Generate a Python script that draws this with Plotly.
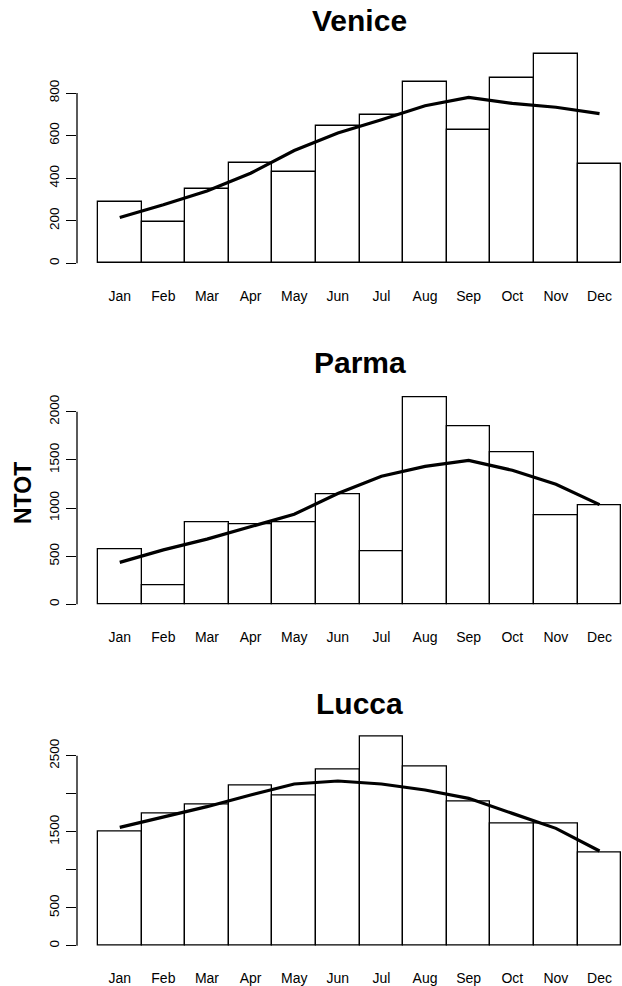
import plotly.graph_objects as go

months = ["Jan", "Feb", "Mar", "Apr", "May", "Jun", "Jul", "Aug", "Sep", "Oct", "Nov", "Dec"]

venice_bars = [287, 196, 348, 472, 431, 646, 695, 850, 627, 871, 982, 467]
venice_line = [215, 275, 340, 423, 530, 612, 674, 740, 779, 751, 733, 703]

parma_bars = [577, 196, 852, 832, 850, 1144, 550, 2148, 1845, 1581, 928, 1034]
parma_line = [436, 565, 677, 808, 935, 1151, 1330, 1433, 1495, 1392, 1247, 1035]

lucca_bars = [1500, 1732, 1851, 2105, 1969, 2320, 2746, 2355, 1890, 1601, 1601, 1228]
lucca_line = [1557, 1689, 1829, 1982, 2127, 2167, 2127, 2048, 1939, 1741, 1544, 1246]

titles = ["Venice", "Parma", "Lucca"]
ytick_vals = [[0, 200, 400, 600, 800],
              [0, 500, 1000, 1500, 2000],
              [0, 500, 1000, 1500, 2000, 2500]]
ytick_text = [["0", "200", "400", "600", "800"],
              ["0", "500", "1000", "1500", "2000"],
              ["0", "500", "", "1500", "", "2500"]]
ylabel = "NTOT"

W, H = 622, 986
FONT = "Liberation Sans, Arial, Helvetica, sans-serif"

# layout in pixels (top, bottom of plotting region) per panel
panel_px = [(45.9, 271.7), (389.2, 612.6), (728.6, 954.1)]
title_px = [20.3, 362.3, 703.9]
plot_left = 77.0

fig = go.Figure()
data = [(venice_bars, venice_line), (parma_bars, parma_line), (lucca_bars, lucca_line)]

for i, (bars, line) in enumerate(data):
    n = i + 1
    xa = "x" if n == 1 else f"x{n}"
    ya = "y" if n == 1 else f"y{n}"
    fig.add_trace(go.Bar(
        x=months, y=bars, xaxis=xa, yaxis=ya,
        marker=dict(color="white", line=dict(color="black", width=1.3)),
        width=1.0, showlegend=False, hoverinfo="skip"))
    fig.add_trace(go.Scatter(
        x=months, y=line, xaxis=xa, yaxis=ya, mode="lines",
        line=dict(color="black", width=3.2), showlegend=False, hoverinfo="skip"))

    top, bot = panel_px[i]
    ymax = max(bars)
    yr = [-0.04 * ymax, 1.04 * ymax]
    xkey = "xaxis" if n == 1 else f"xaxis{n}"
    ykey = "yaxis" if n == 1 else f"yaxis{n}"
    fig.update_layout(**{
        xkey: dict(
            domain=[plot_left / W, 1.0], anchor=ya,
            range=[-0.98, 11.515], type="category",
            showgrid=False, zeroline=False, showline=False, ticks="",
            tickfont=dict(family=FONT, size=14, color="black"),
            ticklabelstandoff=14, fixedrange=True),
        ykey: dict(
            domain=[(H - bot) / H, (H - top) / H], anchor=xa,
            range=yr, showgrid=False, zeroline=False, showline=False,
            ticks="outside", ticklen=10, tickwidth=1.3, tickcolor="black",
            tickvals=ytick_vals[i], ticktext=ytick_text[i], tickangle=-90,
            tickfont=dict(family=FONT, size=13.5, color="black"),
            ticklabelstandoff=2, fixedrange=True),
    })
    fig.add_shape(type="line", xref=f"{xa} domain", yref=ya,
                  x0=0, x1=0, y0=0, y1=ytick_vals[i][-1],
                  line=dict(color="black", width=1.3))
    fig.add_annotation(text=f"<b>{titles[i]}</b>", xref="paper", yref="paper",
                       x=359.6 / W, y=(H - title_px[i]) / H,
                       xanchor="center", yanchor="middle", showarrow=False,
                       font=dict(family=FONT, size=30, color="black"))

fig.add_annotation(text=f"<b>{ylabel}</b>", xref="paper", yref="paper",
                   x=23 / W, y=(H - 493) / H, textangle=-90,
                   xanchor="center", yanchor="middle", showarrow=False,
                   font=dict(family=FONT, size=23, color="black"))

fig.update_layout(width=W, height=H, autosize=False,
                  margin=dict(l=0, r=0, t=0, b=0),
                  paper_bgcolor="white", plot_bgcolor="white",
                  bargap=0, font=dict(family=FONT, color="black"))

fig.write_html("out.html")
